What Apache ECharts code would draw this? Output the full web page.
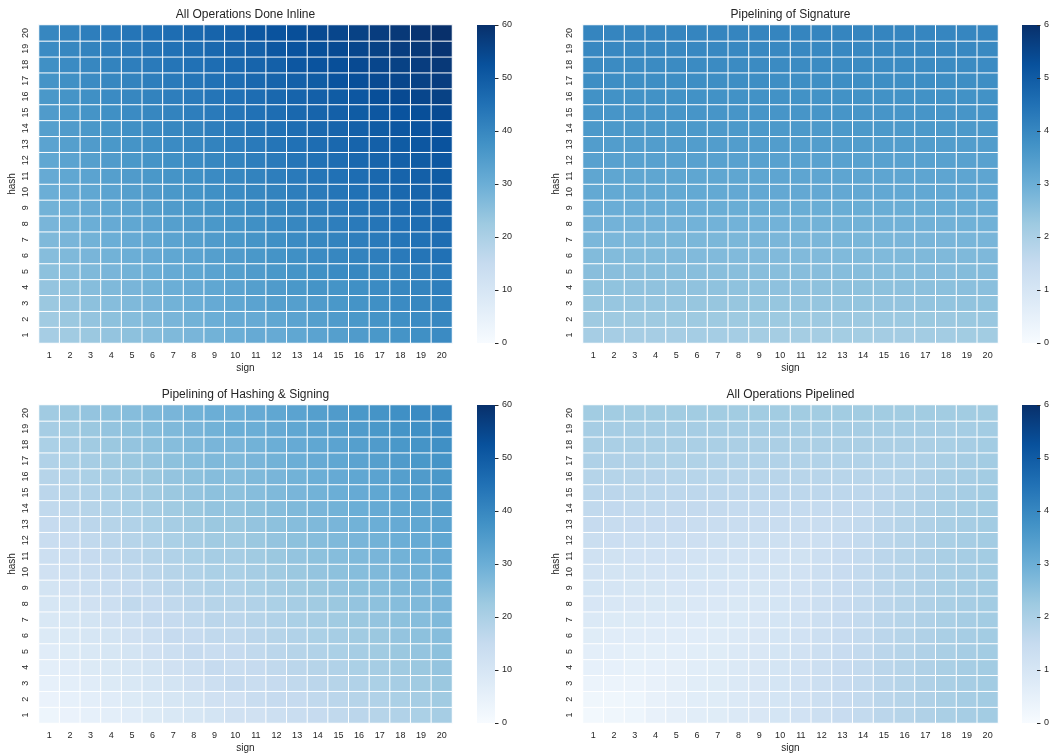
<!DOCTYPE html>
<html><head><meta charset="utf-8">
<script src="https://cdn.jsdelivr.net/npm/echarts@6/dist/echarts.min.js"></script>
<style>html,body{margin:0;padding:0;background:#fff}#c{width:1052px;height:755px}</style>
</head><body><div id="c"></div>
<script>
const signLabels = ['1','2','3','4','5','6','7','8','9','10','11','12','13','14','15','16','17','18','19','20'];
const hashLabels = ['1','2','3','4','5','6','7','8','9','10','11','12','13','14','15','16','17','18','19','20'];
const titles = ['All Operations Done Inline','Pipelining of Signature','Pipelining of Hashing & Signing','All Operations Pipelined'];
const scaleMax = [60, 6, 60, 6];
const scaleStep = [10, 1, 10, 1];

// rows: hash = 1..20 (bottom to top); columns: sign = 1..20
const inlineRows = [
[21,22,23,24,25,26,27,28,29,30,31,31,32,33,34,35,36,37,38,39],
[22,23,24,25,26,27,28,29,30,31,31,32,33,34,35,36,37,38,39,40],
[23,24,25,26,27,28,29,30,31,32,33,34,34,35,36,37,38,39,40,41],
[24,25,26,27,28,29,30,31,32,33,34,35,36,37,37,38,39,40,41,42],
[25,26,27,28,29,30,31,32,33,34,35,36,37,38,39,40,40,41,42,43],
[26,27,28,29,30,31,32,33,34,35,36,37,38,39,40,41,42,43,44,45],
[27,28,29,30,31,32,33,34,35,36,37,38,39,40,41,42,43,44,45,46],
[28,29,30,31,32,33,34,35,36,37,38,39,40,41,42,43,44,45,46,47],
[29,30,31,32,33,34,35,36,37,38,39,40,41,42,43,44,45,46,47,48],
[30,31,32,33,34,35,36,37,38,39,40,41,42,43,44,45,46,47,48,49],
[31,32,33,34,35,36,37,38,39,40,41,42,43,44,45,46,47,48,49,50],
[32,33,34,35,36,37,38,39,40,41,42,43,44,45,46,47,48,49,50,51],
[33,34,35,36,37,38,39,40,41,42,43,44,45,46,47,48,49,50,51,52],
[34,35,36,37,38,39,40,41,42,43,44,45,46,47,48,49,50,51,52,53],
[35,36,37,38,39,40,41,42,43,44,45,46,47,48,49,50,51,52,53,54],
[36,37,38,39,40,41,42,43,44,45,46,47,48,49,50,51,53,54,55,56],
[37,38,39,40,41,42,43,44,45,46,47,48,49,50,52,53,54,55,56,57],
[38,39,40,41,42,43,44,45,46,47,48,49,51,52,53,54,55,56,57,58],
[39,40,41,42,43,44,45,46,47,48,49,51,52,53,54,55,56,57,58,59],
[40,41,42,43,44,45,46,47,48,49,51,52,53,54,55,56,57,58,59,60]
];

const signPipeRows = [
[2.10,2.10,2.10,2.10,2.10,2.11,2.11,2.11,2.12,2.12,2.12,2.12,2.13,2.13,2.14,2.14,2.15,2.16,2.17,2.18],
[2.24,2.24,2.24,2.24,2.25,2.25,2.25,2.25,2.26,2.26,2.26,2.27,2.27,2.27,2.28,2.28,2.29,2.30,2.31,2.32],
[2.34,2.35,2.35,2.35,2.35,2.36,2.36,2.36,2.37,2.37,2.38,2.38,2.38,2.39,2.40,2.40,2.41,2.42,2.44,2.45],
[2.45,2.45,2.46,2.46,2.46,2.46,2.47,2.47,2.47,2.48,2.48,2.49,2.49,2.50,2.50,2.51,2.52,2.53,2.54,2.55],
[2.56,2.56,2.56,2.57,2.57,2.57,2.57,2.58,2.58,2.58,2.59,2.59,2.60,2.60,2.61,2.61,2.62,2.62,2.63,2.64],
[2.66,2.66,2.66,2.66,2.67,2.67,2.67,2.67,2.68,2.68,2.68,2.68,2.69,2.69,2.69,2.70,2.70,2.71,2.71,2.72],
[2.76,2.76,2.76,2.77,2.77,2.77,2.77,2.77,2.78,2.78,2.78,2.78,2.79,2.79,2.79,2.80,2.80,2.80,2.81,2.81],
[2.88,2.88,2.88,2.88,2.88,2.89,2.89,2.89,2.89,2.89,2.90,2.90,2.90,2.90,2.91,2.91,2.91,2.91,2.92,2.92],
[3.02,3.02,3.02,3.02,3.02,3.02,3.03,3.03,3.03,3.03,3.03,3.03,3.04,3.04,3.04,3.04,3.04,3.05,3.05,3.05],
[3.14,3.14,3.14,3.14,3.14,3.14,3.14,3.15,3.15,3.15,3.15,3.15,3.15,3.15,3.16,3.16,3.16,3.16,3.16,3.16],
[3.22,3.22,3.22,3.22,3.22,3.22,3.22,3.22,3.22,3.23,3.23,3.23,3.23,3.23,3.23,3.23,3.23,3.23,3.23,3.23],
[3.35,3.35,3.35,3.35,3.35,3.35,3.35,3.35,3.35,3.35,3.35,3.35,3.35,3.35,3.35,3.35,3.35,3.35,3.35,3.35],
[3.46,3.46,3.46,3.46,3.46,3.46,3.46,3.46,3.46,3.46,3.46,3.46,3.46,3.46,3.46,3.46,3.46,3.46,3.46,3.46],
[3.56,3.56,3.56,3.56,3.56,3.56,3.56,3.56,3.56,3.56,3.56,3.56,3.56,3.56,3.56,3.56,3.56,3.56,3.56,3.56],
[3.66,3.66,3.66,3.66,3.66,3.66,3.66,3.66,3.66,3.66,3.66,3.66,3.66,3.66,3.66,3.66,3.66,3.66,3.66,3.66],
[3.76,3.76,3.76,3.76,3.76,3.76,3.76,3.76,3.76,3.76,3.76,3.76,3.76,3.76,3.76,3.76,3.76,3.76,3.76,3.76],
[3.85,3.85,3.85,3.85,3.85,3.85,3.85,3.85,3.85,3.85,3.85,3.85,3.85,3.85,3.85,3.85,3.85,3.85,3.85,3.85],
[3.91,3.91,3.91,3.91,3.91,3.91,3.91,3.91,3.91,3.91,3.91,3.91,3.91,3.91,3.91,3.91,3.91,3.91,3.91,3.90],
[3.98,3.98,3.98,3.98,3.98,3.98,3.98,3.98,3.98,3.98,3.98,3.98,3.98,3.98,3.98,3.98,3.98,3.97,3.97,3.96],
[4.04,4.04,4.04,4.04,4.04,4.04,4.04,4.04,4.04,4.04,4.04,4.04,4.04,4.04,4.04,4.04,4.03,4.03,4.02,4.02]
];

const hashSignRows = [
[3,4,5,6,7,8,9,10,11,12,12,13,14,15,16,17,18,19,20,21],
[4,5,6,7,8,9,10,11,12,12,14,15,15,16,17,18,19,20,21,22],
[5,6,7,8,9,10,11,12,13,15,14,15,16,17,18,19,20,21,22,23],
[6,7,8,9,10,11,12,13,15,14,15,16,17,18,19,20,21,22,23,24],
[7,8,9,10,11,12,13,15,14,15,16,17,18,19,20,21,22,23,24,25],
[8,9,10,11,12,13,15,15,16,16,17,18,19,20,21,22,23,24,25,26],
[9,10,11,12,13,15,15,16,17,17,18,19,20,21,22,23,24,25,26,27],
[10,11,12,13,16,15,16,17,18,18,19,20,21,22,23,24,25,26,27,28],
[11,12,13,14,15,16,17,18,19,19,20,21,22,23,24,25,26,27,28,29],
[12,13,14,15,16,17,18,19,20,20,21,22,23,24,25,26,27,28,29,30],
[13,14,15,16,17,18,19,20,21,21,22,23,24,25,26,27,28,29,30,31],
[14,15,16,17,18,19,20,21,22,22,23,24,25,26,27,28,29,30,31,32],
[15,16,17,18,19,20,21,22,23,23,24,25,26,27,28,29,30,31,32,33],
[16,17,18,19,20,21,22,23,24,24,25,26,27,28,29,30,31,32,33,34],
[17,18,19,20,21,22,23,24,25,25,26,27,28,29,30,31,32,33,34,35],
[18,19,20,21,22,23,24,25,26,26,27,28,29,30,31,32,33,34,35,36],
[19,20,21,22,23,24,25,26,27,27,28,29,30,31,32,33,34,35,36,37],
[20,21,22,23,24,25,26,27,28,28,29,30,31,32,33,34,35,36,37,38],
[21,22,23,24,25,26,27,28,29,30,30,31,32,33,34,35,36,37,38,39],
[22,23,24,25,26,27,28,29,30,30,31,32,33,34,35,36,37,38,39,40]
];

const allPipeRows = [
[0.15,0.25,0.30,0.45,0.55,0.65,0.72,0.85,0.92,1.05,1.15,1.30,1.45,1.55,1.70,1.80,1.92,2.02,2.10,2.15],
[0.24,0.25,0.30,0.45,0.55,0.65,0.72,0.85,0.92,1.05,1.15,1.30,1.45,1.55,1.70,1.80,1.92,2.02,2.10,2.15],
[0.36,0.36,0.36,0.45,0.55,0.65,0.72,0.85,0.92,1.05,1.15,1.30,1.45,1.55,1.70,1.80,1.92,2.02,2.10,2.15],
[0.50,0.50,0.49,0.50,0.55,0.65,0.72,0.85,0.92,1.05,1.15,1.30,1.45,1.55,1.70,1.80,1.92,2.02,2.10,2.15],
[0.60,0.59,0.58,0.58,0.60,0.65,0.72,0.85,0.92,1.05,1.15,1.30,1.45,1.55,1.70,1.80,1.92,2.02,2.10,2.15],
[0.72,0.70,0.69,0.68,0.68,0.70,0.74,0.85,0.92,1.05,1.15,1.30,1.45,1.55,1.70,1.80,1.92,2.02,2.10,2.15],
[0.84,0.82,0.80,0.79,0.78,0.78,0.80,0.86,0.92,1.05,1.15,1.30,1.45,1.55,1.70,1.80,1.92,2.02,2.10,2.15],
[0.97,0.94,0.92,0.91,0.90,0.89,0.89,0.91,0.95,1.05,1.15,1.30,1.45,1.55,1.70,1.80,1.92,2.02,2.10,2.15],
[1.05,1.02,1.00,0.99,0.98,0.97,0.97,0.98,1.00,1.07,1.15,1.30,1.45,1.55,1.70,1.80,1.92,2.02,2.10,2.15],
[1.13,1.10,1.08,1.07,1.06,1.05,1.05,1.05,1.06,1.09,1.16,1.30,1.45,1.55,1.70,1.80,1.92,2.02,2.10,2.15],
[1.22,1.19,1.17,1.16,1.15,1.14,1.13,1.13,1.13,1.14,1.18,1.30,1.45,1.55,1.70,1.80,1.92,2.02,2.10,2.15],
[1.37,1.34,1.32,1.31,1.30,1.29,1.28,1.28,1.28,1.28,1.29,1.32,1.45,1.55,1.70,1.80,1.92,2.02,2.10,2.15],
[1.50,1.47,1.45,1.44,1.43,1.42,1.41,1.41,1.41,1.41,1.41,1.42,1.46,1.55,1.70,1.80,1.92,2.02,2.10,2.15],
[1.60,1.58,1.56,1.55,1.54,1.53,1.53,1.52,1.52,1.52,1.52,1.52,1.53,1.56,1.70,1.80,1.92,2.02,2.10,2.15],
[1.73,1.71,1.69,1.68,1.67,1.67,1.66,1.66,1.66,1.66,1.66,1.66,1.66,1.67,1.70,1.80,1.92,2.02,2.10,2.15],
[1.82,1.81,1.80,1.79,1.78,1.78,1.78,1.77,1.77,1.77,1.77,1.77,1.77,1.77,1.78,1.81,1.92,2.02,2.10,2.15],
[1.93,1.92,1.92,1.91,1.91,1.91,1.90,1.90,1.90,1.90,1.90,1.90,1.90,1.90,1.90,1.90,1.93,2.02,2.10,2.15],
[2.03,2.03,2.02,2.02,2.02,2.02,2.02,2.01,2.01,2.01,2.01,2.01,2.01,2.01,2.01,2.01,2.01,2.04,2.10,2.15],
[2.10,2.10,2.10,2.10,2.10,2.10,2.10,2.10,2.10,2.10,2.10,2.10,2.10,2.10,2.10,2.10,2.10,2.10,2.11,2.15],
[2.18,2.18,2.18,2.18,2.18,2.18,2.18,2.18,2.18,2.18,2.18,2.18,2.18,2.18,2.18,2.18,2.18,2.18,2.17,2.17]
];

const allRows = [inlineRows, signPipeRows, hashSignRows, allPipeRows];
const blues = ['#f7fbff','#deebf7','#c6dbef','#9ecae1','#6baed6','#4292c6','#2171b5','#08519c','#08306b'];

// layout (pixels)
const FONT = 'Liberation Sans, Arial, sans-serif';
const TXT = '#262626';
const layout = [
  {l: 39,  t: 25,  w: 413, cb: 477},
  {l: 583, t: 25,  w: 415, cb: 1022},
  {l: 39,  t: 405, w: 413, cb: 477},
  {l: 583, t: 405, w: 415, cb: 1022}
];
const H = 318, CBW = 18;

const grid = [], xAxis = [], yAxis = [], series = [], visualMap = [], title = [], graphic = [];
const gradStops = blues.map((c, k) => ({offset: k / (blues.length - 1), color: c}));
layout.forEach((p, i) => {
  grid.push({left: p.l, top: p.t, width: p.w, height: H, containLabel: false});
  xAxis.push({
    type: 'category', gridIndex: i, data: signLabels,
    axisLine: {show: false}, axisTick: {show: false}, splitLine: {show: false},
    axisLabel: {fontSize: 9, color: TXT, margin: 8, fontFamily: FONT, interval: 0},
    name: 'sign', nameLocation: 'middle', nameGap: 20,
    nameTextStyle: {fontSize: 10, color: TXT, fontFamily: FONT}
  });
  yAxis.push({
    type: 'category', gridIndex: i, data: hashLabels,
    axisLine: {show: false}, axisTick: {show: false}, splitLine: {show: false},
    axisLabel: {fontSize: 9, color: TXT, margin: 9, rotate: 90, fontFamily: FONT, interval: 0},
    name: 'hash', nameLocation: 'middle', nameGap: 22, nameRotate: 90,
    nameTextStyle: {fontSize: 10, color: TXT, fontFamily: FONT}
  });
  const data = [];
  allRows[i].forEach((row, hi) => row.forEach((v, si) => data.push([si, hi, v])));
  series.push({
    type: 'heatmap', xAxisIndex: i, yAxisIndex: i, data: data,
    itemStyle: {borderColor: '#ffffff', borderWidth: 1},
    emphasis: {disabled: true}, animation: false
  });
  visualMap.push({
    type: 'continuous', seriesIndex: i, min: 0, max: scaleMax[i], show: false,
    inRange: {color: blues}
  });
  graphic.push({
    type: 'rect', left: p.cb, top: p.t, silent: true,
    shape: {width: CBW, height: H},
    style: {fill: new echarts.graphic.LinearGradient(0, 1, 0, 0, gradStops)}
  });
  title.push({
    text: titles[i], left: p.l + p.w / 2, top: p.t - 16, textAlign: 'center', padding: 0,
    textStyle: {fontSize: 12, fontWeight: 'normal', color: TXT, fontFamily: FONT}
  });
});
// colorbar axes
layout.forEach((p, i) => {
  grid.push({left: p.cb, top: p.t, width: CBW, height: H});
  xAxis.push({type: 'value', gridIndex: 4 + i, show: false, min: 0, max: 1});
  yAxis.push({
    type: 'value', gridIndex: 4 + i, position: 'right', min: 0, max: scaleMax[i], interval: scaleStep[i],
    axisLine: {show: false, onZero: false}, splitLine: {show: false},
    axisTick: {show: true, length: 3.5, lineStyle: {color: TXT, width: 1}},
    axisLabel: {fontSize: 9, color: TXT, margin: 7, fontFamily: FONT}
  });
});

const chart = echarts.init(document.getElementById('c'), null, {renderer: 'canvas'});
chart.setOption({animation: false, backgroundColor: '#ffffff', title, grid, xAxis, yAxis, visualMap, series, graphic});
</script>
</body></html>
